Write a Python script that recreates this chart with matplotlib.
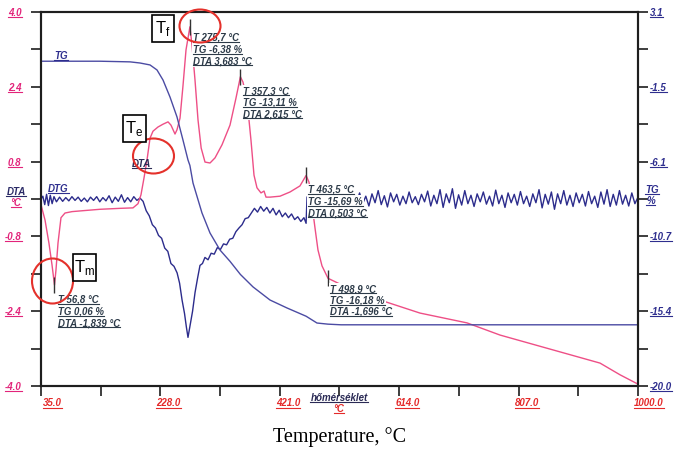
import numpy as np
import matplotlib
matplotlib.use('Agg')
import matplotlib.pyplot as plt
from matplotlib.patches import Ellipse, Rectangle
from matplotlib.lines import Line2D
from matplotlib.transforms import IdentityTransform, ScaledTranslation
from matplotlib import font_manager

# ---------------- data ----------------
dta_temp = [35, 41.5, 47.9, 52.8, 56.8, 59.2, 62.5, 67.3, 73.8, 85.1, 102.9, 130.4, 162.7, 183.7,
            191.8, 196.6, 201.5, 206.3, 211.2, 216.0, 224.1, 232.2, 240.3, 245.1, 251.6, 254.8,
            259.7, 264.5, 269.4, 275.7, 279.1, 283.9, 288.8, 293.9, 300.1, 308.2, 316.3, 327.6,
            340.5, 350.2, 357.3, 361.5, 368.0, 374.4, 379.3, 384.1, 390.6, 395.5, 398.7, 405.2,
            421.3, 437.5, 453.6, 463.5, 468.2, 473.1, 477.9, 482.7, 489.2, 498.9, 518.3, 583.0,
            647.6, 723.6, 776.9, 857.7, 938.6, 970.9, 1000]
dta_vals = [-0.12, -0.45, -0.95, -1.41, -1.839, -1.52, -0.94, -0.40, -0.30, -0.27, -0.25, -0.22,
            -0.20, -0.19, -0.10, 0.09, 0.45, 0.83, 1.30, 1.45, 1.54, 1.60, 1.65, 1.58, 1.39, 1.48,
            1.73, 2.42, 3.19, 3.683, 3.29, 2.55, 1.69, 1.09, 0.79, 0.77, 0.88, 1.16,
            1.58, 2.16, 2.615, 2.50, 2.12, 1.26, 0.51, 0.24, 0.13, 0.17, 0.04, 0.04,
            0.06, 0.15, 0.28, 0.503, 0.36, -0.13, -0.62, -1.09, -1.43, -1.696, -1.82, -2.16,
            -2.44, -2.65, -2.91, -3.21, -3.51, -3.76, -3.96]

tg_temp = [35, 130, 178.9, 195, 211.2, 222.5, 232.2, 243.5, 254.8, 264.5, 272.6, 275.7, 280.7,
           295.2, 308.2, 324.3, 340.5, 357.3, 377.7, 405.2, 432.6, 463.5, 481.1, 498.9, 520, 1000]
tg_vals = [0.06, 0.06, 0.02, -0.05, -0.17, -0.48, -1.10, -2.15, -3.38, -4.81, -6.04, -6.38, -7.46,
           -9.31, -10.55, -11.60, -12.30, -13.11, -13.88, -14.69, -15.18, -15.69, -16.11, -16.18,
           -16.22, -16.22]

dtg_temp = [35, 38, 41, 44, 47, 50, 53, 56, 60, 65, 70, 75, 80, 85, 90, 95, 100, 105, 110, 115,
            120, 125, 130, 135, 140, 145, 150, 155, 160, 165, 170, 175, 180, 185, 190, 195, 200,
            205, 210, 215, 220, 225, 230, 235, 240, 245, 250, 255, 259, 263, 267, 270, 272.6,
            276, 280, 284, 288, 292, 296, 300, 305, 310, 315, 320, 325, 330, 335, 340, 345, 350,
            355, 360, 365, 370, 375, 380, 385, 390, 395, 400, 405, 410, 415, 420, 425, 430, 435,
            440, 445, 450, 455, 460, 463.5,
            465, 470, 475, 480, 485, 490, 495, 500, 505, 510, 515,
            520, 525, 530, 535, 540, 545, 550, 555, 560, 565,
            570, 575, 580, 585, 590, 595, 600, 605, 610, 615,
            620, 625, 630, 635, 640, 645, 650, 655, 660, 665,
            670, 675, 680, 685, 690, 695, 700, 705, 710, 715,
            720, 725, 730, 735, 740, 745, 750, 755, 760, 765,
            770, 775, 780, 785, 790, 795, 800, 805, 810, 815,
            820, 825, 830, 835, 840, 845, 850, 855, 860, 865,
            870, 875, 880, 885, 890, 895, 900, 905, 910, 915,
            920, 925, 930, 935, 940, 945, 950, 955, 960, 965,
            970, 975, 980, 985, 990, 995, 1000]
dtg_vals = [0.0, 0.06, -0.12, 0.10, -0.14, 0.08, -0.10, 0.05, -0.06, 0.04, -0.05, 0.03, -0.04,
            0.05, -0.03, 0.04, -0.05, 0.02, -0.06, 0.04, -0.03, 0.05, -0.06, 0.03, -0.04, 0.07,
            -0.08, 0.04, -0.05, 0.09, -0.07, 0.03, -0.06, 0.05, -0.03, 0.02, -0.05,
            -0.25, -0.36, -0.55, -0.62, -0.78, -0.84, -1.05, -1.12, -1.38, -1.44, -1.58, -1.80,
            -2.16, -2.45, -2.74, -2.96,
            -2.70, -2.40, -2.00, -1.70, -1.42, -1.38, -1.25, -1.30, -1.16, -1.18, -1.04, -1.08,
            -0.96, -0.98, -0.86, -0.84, -0.70, -0.62, -0.55, -0.42, -0.40, -0.30, -0.20, -0.28,
            -0.16, -0.26, -0.18, -0.30, -0.20, -0.34, -0.24, -0.38, -0.30, -0.40, -0.32, -0.44,
            -0.38, -0.48, -0.40, -0.52,
            0.04, 0.12, -0.14, 0.08, -0.10, 0.16, -0.06, 0.10, -0.13, 0.06, -0.09,
            0.14, -0.11, 0.05, -0.16, 0.09, -0.07, 0.13, -0.10, 0.06, -0.15,
            0.11, -0.08, 0.18, -0.12, 0.07, -0.17, 0.13, -0.06, 0.10, -0.13,
            0.06, -0.10, 0.15, -0.08, 0.05, -0.12, 0.10, -0.06, 0.17, -0.15,
            0.08, -0.10, 0.20, -0.18, 0.11, -0.08, 0.22, -0.20, 0.09, -0.13,
            0.18, -0.10, 0.08, -0.16, 0.11, -0.06, 0.15, -0.11, 0.06, -0.15,
            0.19, -0.10, 0.08, -0.18, 0.13, -0.08, 0.10, -0.13, 0.16, -0.10,
            0.06, -0.16, 0.11, -0.08, 0.20, -0.19, 0.10, -0.11, 0.15, -0.22,
            0.11, -0.10, 0.18, -0.13, 0.08, -0.16, 0.13, -0.08, 0.10, -0.15,
            0.16, -0.10, 0.06, -0.18, 0.15, -0.11, 0.20, -0.16, 0.10, -0.13,
            0.18, -0.11, 0.08, -0.15, 0.13, -0.10, 0.04]

peak_temp = [56.8, 275.7, 357.3, 463.5, 498.9]
peak_dta = [-1.839, 3.683, 2.615, 0.503, -1.696]
peak_text = [["T 56,8 °C", "TG 0,06 %", "DTA -1,839 °C"],
             ["T 275,7 °C", "TG -6,38 %", "DTA 3,683 °C"],
             ["T 357,3 °C", "TG -13,11 %", "DTA 2,615 °C"],
             ["T 463,5 °C", "TG -15,69 %", "DTA 0,503 °C"],
             ["T 498,9 °C", "TG -16,18 %", "DTA -1,696 °C"]]

x_major = [35, 228, 421, 614, 807, 1000]
x_labels = ["35.0", "228.0", "421.0", "614.0", "807.0", "1000.0"]
x_minor = [131.5, 324.5, 517.5, 710.5, 903.5]
dta_major = [4.0, 2.4, 0.8, -0.8, -2.4, -4.0]
dta_labels = ["4.0", "2.4", "0.8", "-0.8", "-2.4", "-4.0"]
dta_minor = [3.2, 1.6, 0.0, -1.6, -3.2]
tg_labels = ["3.1", "-1.5", "-6.1", "-10.7", "-15.4", "-20.0"]

# ---------------- style ----------------
names = {f.name for f in font_manager.fontManager.ttflist}
NARROW = 'Liberation Sans Narrow' if 'Liberation Sans Narrow' in names else 'Liberation Sans'
ANN_SIZE = 8 if NARROW == 'Liberation Sans Narrow' else 6.9

DTA_C = '#ee4f86'
TG_C = '#4b4ba3'
DTG_C = '#2c2c8c'
PINK = '#e2247a'
NAVY = '#2e2e8e'
RED = '#e42a2a'
ANN = '#2c3a48'
AX_C = '#1e1e1e'

W, H = 679, 450
fig = plt.figure(figsize=(W / 100, H / 100), dpi=100)
fig.patch.set_facecolor('white')


def fx(px):
    return px / W


def fy(py):
    return 1 - py / H


ax = fig.add_axes([fx(41), fy(386), fx(638) - fx(41), fy(12) - fy(386)])
ax2 = ax.twinx()

ax.set_xlim(35, 1000)
ax.set_ylim(-4, 4)
ax2.set_ylim(-20, 3.1)

ax.plot(dtg_temp, dtg_vals, color=DTG_C, lw=1.0, zorder=2)
ax.plot(dta_temp, dta_vals, color=DTA_C, lw=1.0, zorder=3)
ax2.plot(tg_temp, tg_vals, color=TG_C, lw=1.0)
ax.plot(peak_temp, peak_dta, ls='none', marker='|', ms=12, mew=1.0, color='#333333', zorder=4)

# ticks
ax.set_xticks(x_major)
ax.set_xticklabels(x_labels)
ax.set_xticks(x_minor, minor=True)
ax.set_yticks(dta_major)
ax.set_yticklabels(dta_labels)
ax.set_yticks(dta_minor, minor=True)
tg_pos = [-20 + (v + 4) / 8 * 23.1 for v in dta_major]
tg_minor = [-20 + (v + 4) / 8 * 23.1 for v in dta_minor]
ax2.set_yticks(tg_pos)
ax2.set_yticklabels(tg_labels)
ax2.set_yticks(tg_minor, minor=True)

for a in (ax, ax2):
    for s in a.spines.values():
        s.set_color(AX_C)
        s.set_linewidth(1.5)
ax.tick_params(axis='both', which='both', direction='out', length=7, width=1.2, color=AX_C)
ax.tick_params(axis='y', which='both', right=False, pad=7, labelcolor=PINK, labelsize=7)
ax.tick_params(axis='x', which='both', top=False, pad=2, labelcolor=RED, labelsize=7)
ax2.tick_params(axis='y', which='both', direction='out', length=7, width=1.2, color=AX_C,
                left=False, pad=1.5, labelcolor=NAVY, labelsize=7)

tick_texts = []
for lbl in ax.get_yticklabels() + ax.get_xticklabels() + ax2.get_yticklabels():
    lbl.set_fontstyle('italic')
    lbl.set_fontweight('bold')
    lbl.set_family('Liberation Sans')
    tick_texts.append(lbl)
for i, lbl in enumerate(ax.get_xticklabels()):
    lbl.set_ha('left')
    shift = 2 if i == 0 else -4
    lbl.set_transform(lbl.get_transform() + ScaledTranslation(shift / 100, 0, fig.dpi_scale_trans))

UL = []


def ftext(px, py, s, color, size=7, ha='left', va='center', family='Liberation Sans',
          style='italic', weight='bold', ul=True, bg=False):
    kw = {}
    if bg:
        kw['bbox'] = dict(fc='white', ec='none', pad=0.8)
    t = fig.text(fx(px), fy(py), s, color=color, fontsize=size, ha=ha, va=va, family=family,
                 fontstyle=style, fontweight=weight, **kw)
    if ul:
        UL.append(t)
    return t


# annotations next to peaks
ann_pos = [(58, 300), (193, 38), (243, 91), (308, 190), (330, 289)]
for (px, py), lines in zip(ann_pos, peak_text):
    for i, s in enumerate(lines):
        ftext(px, py + i * 11.5, s, ANN, size=ANN_SIZE, family=NARROW, bg=True)

# curve / axis labels
ftext(54, 56, "TG", NAVY)
ftext(48, 189, "DTG", NAVY)
ftext(132, 164, "DTA", '#2a2a55')
ftext(16, 192, "DTA", '#2a2a66', ha='center')
ftext(16, 203, "°C", PINK, ha='center')
ftext(645, 190, "TG", NAVY)
ftext(646, 201, "%", NAVY)
ftext(339, 398, "hőmérséklet", '#2a2a55', ha='center')
ftext(339, 409, "°C", RED, ha='center')
ftext(340, 437, "Temperature, °C", 'black', size=14.5, ha='center', family='Liberation Serif',
      style='normal', weight='normal', ul=False)

# red circles
for cx, cy, w, h in [(52.5, 281, 41, 45), (153.5, 156, 41, 35), (200, 26, 41, 33)]:
    fig.add_artist(Ellipse((fx(cx), fy(cy)), w / W, h / H, transform=fig.transFigure,
                           fill=False, ec='#e4312b', lw=1.5, zorder=5))

# T boxes
for x0, y0, x1, y1, sub in [(73, 254, 96, 281, 'm'), (123, 115, 146, 142, 'e'), (152, 15, 174, 42, 'f')]:
    fig.add_artist(Rectangle((fx(x0), fy(y1)), (x1 - x0) / W, (y1 - y0) / H,
                             transform=fig.transFigure, fc='white', ec='black', lw=1.2, zorder=6))
    fig.text(fx((x0 + x1) / 2), fy((y0 + y1) / 2), r'T$_{\mathregular{%s}}$' % sub,
             fontsize=12, family='Liberation Sans', ha='center', va='center', zorder=7)

# underlines
fig.canvas.draw()
r = fig.canvas.get_renderer()
for t in UL + tick_texts:
    if not t.get_visible() or not t.get_text():
        continue
    bb = t.get_window_extent(r)
    y = bb.y0 + 1.0
    fig.add_artist(Line2D([bb.x0, bb.x1], [y, y], transform=IdentityTransform(),
                          color=t.get_color(), lw=0.8, zorder=4))

fig.savefig('out.png', dpi=100, facecolor='white')
